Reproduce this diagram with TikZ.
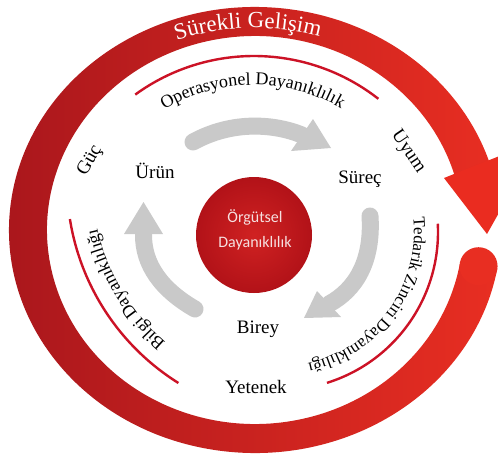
\documentclass[tikz,border=0pt]{standalone}
\usepackage{fontspec}
\setmainfont{Liberation Serif}
\newfontfamily\calfont{Carlito}
\usetikzlibrary{decorations.text,calc}
\definecolor{ringdark}{RGB}{168,22,28}
\definecolor{ringmid}{RGB}{198,28,32}
\definecolor{ringbright}{RGB}{232,46,34}
\definecolor{headred}{RGB}{234,44,32}
\definecolor{thinred}{RGB}{204,18,38}
\definecolor{arrowgray}{RGB}{201,201,201}
\definecolor{coredark}{RGB}{178,18,24}
\definecolor{corelight}{RGB}{208,34,34}
\definecolor{coretext}{RGB}{246,224,224}
\begin{document}
\begin{tikzpicture}[x=1pt,y=-1pt,
  lbl/.style={font=\fontsize{19}{19}\selectfont, text=black, inner sep=0pt},
  thinline/.style={draw=thinred, line width=2.4pt},
  grayshaft/.style={draw=arrowgray, line width=17pt, line cap=round},
  grayhead/.style={fill=arrowgray},
]
\useasboundingbox (0,0) rectangle (498,461);
\fill[white] (0,0) rectangle (498,461);
\coordinate (C) at (255,230);
\coordinate (T) at (254,258);
\coordinate (L) at (304,182);
\coordinate (R) at (280,232);
% outer ring
\shade[left color=ringdark, middle color=ringmid, right color=ringbright]
  ($(C)+(10:246 and 223)$) arc[start angle=10, end angle=344, x radius=246, y radius=223]
  -- ($(C)+(344:208 and 194)$) arc[start angle=344, end angle=10, x radius=208, y radius=194] -- cycle;
\fill[ringbright] ($(C)+(10:227 and 208.5)$) circle[radius=19];
\fill[headred] (444,178) -- (540,140) -- (487,234) -- cycle;
% title
\path[decorate, decoration={text along path, text align=center,
  text={|\fontsize{23}{23}\selectfont\color{white}|Sürekli Gelişim}}]
  ($(C)+(195:225 and 202)$) arc[start angle=195, end angle=341, x radius=225, y radius=202];
% thin red lines
\draw[thinline] ($(T)+(234:202)$) arc[start angle=234, end angle=308, radius=202];
\draw[thinline] ($(L)+(122:237)$) arc[start angle=122, end angle=171, radius=237];
\draw[thinline] ($(R)+(-3:158)$) arc[start angle=-3, end angle=72.7, radius=158];
% curved texts
\path[decorate, decoration={text along path, text align=center,
  text={|\fontsize{18}{18}\selectfont|Operasyonel Dayanıklılık}}]
  ($(T)+(210:173)$) arc[start angle=210, end angle=329, radius=173];
\path[decorate, decoration={text along path, text align=center,
  text={|\fontsize{18}{18}\selectfont|Bilgi Dayanıklılığı}}]
  ($(L)+(110:212)$) arc[start angle=110, end angle=188, radius=212];
\path[decorate, decoration={text along path, text align=center,
  text={|\fontsize{17}{17}\selectfont|Tedarik Zinciri Dayanıklılığı}}]
  ($(R)+(-20:134)$) arc[start angle=-20, end angle=92, radius=134];
% gray arrows
\coordinate (a1s) at (193,142); \coordinate (a1e) at (302,135);
\draw[grayshaft] (a1s) .. controls (233,120) and (275,124) .. (a1e);
\fill[grayhead] (313,119) -- (331,148) -- (291,151) -- cycle;
\coordinate (a2s) at (370,216); \coordinate (a2e) at (329,304);
\draw[grayshaft] (a2s) .. controls (373,262) and (355,290) .. (a2e);
\fill[grayhead] (317,291) -- (341,317) -- (304,318) -- cycle;
\coordinate (a3s) at (195,309); \coordinate (a3e) at (143.5,234);
\draw[grayshaft] (a3s) .. controls (162,290) and (143,265) .. (a3e);
\fill[grayhead] (124,234) -- (163,234) -- (143.5,202) -- cycle;
% core
\node[circle, minimum size=116pt, inner sep=0pt, shade, inner color=corelight, outer color=coredark] (core) at (254,235) {};
\node[font=\calfont\fontsize{16}{25}\selectfont, text=coretext, align=center] (coretxt) at (255,230) {Örgütsel\\Dayanıklılık};
% labels
\node[lbl, anchor=base] (urun) at (155,178) {Ürün};
\node[lbl, anchor=base] (surec) at (360,183) {Süreç};
\node[lbl, anchor=base] (birey) at (258,333) {Birey};
\node[lbl, anchor=base] (yetenek) at (256,393) {Yetenek};
\node[lbl, rotate=60] (guc) at (90,161) {Güç};
\node[lbl, rotate=-56] (uyum) at (408,152) {Uyum};
\end{tikzpicture}
\end{document}
